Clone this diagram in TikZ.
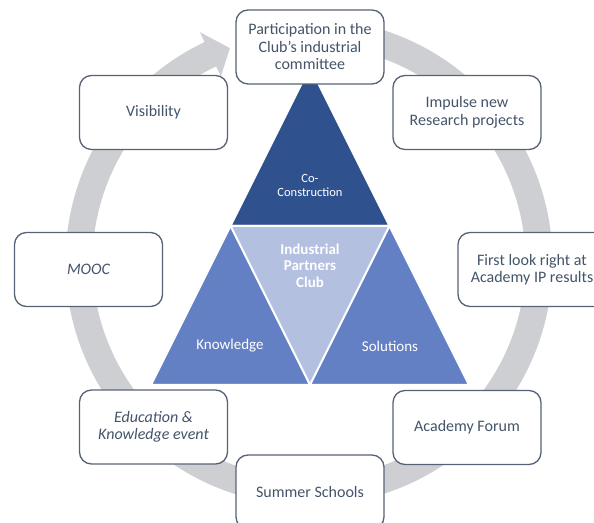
\documentclass[tikz,border=0pt]{standalone}
\usepackage{fontspec}
\setmainfont{Carlito}
\definecolor{ringgray}{RGB}{206,207,211}
\definecolor{boxline}{RGB}{88,98,118}
\definecolor{boxtext}{RGB}{68,84,106}
\definecolor{darkblue}{RGB}{47,82,143}
\definecolor{midblue}{RGB}{100,128,196}
\definecolor{lightblue}{RGB}{180,192,224}
\begin{document}
\begin{tikzpicture}[x=1pt,y=1pt,
box/.style={draw=boxline,line width=1.3pt,rounded corners=12pt,fill=white,
	minimum width=148pt,minimum height=74pt,align=center,text=boxtext,
	font=\fontsize{16}{17.5}\selectfont},
piece/.style={draw=white,line width=2pt,line join=round},
inner/.style={text=white,align=center}]
\useasboundingbox (0,0) rectangle (594,522);
% ring arrow behind everything
\begin{scope}[shift={(309,260)}]
\fill[ringgray] (90:243.5) arc[start angle=90,end angle=-244.6,radius=243.5]
	-- (115.4:254.5) -- (110.3:228) -- (115.4:205.5) -- (115.4:216.5)
	arc[start angle=-244.6,end angle=90,radius=216.5] -- cycle;
\end{scope}
% triangle
\coordinate (apex) at (310,455);
\coordinate (ml) at (230.5,296);
\coordinate (mr) at (389.5,296);
\coordinate (bl) at (151,137);
\coordinate (bm) at (310,137);
\coordinate (br) at (469,137);
\filldraw[piece,fill=darkblue] (apex) -- (mr) -- (ml) -- cycle;
\filldraw[piece,fill=lightblue] (ml) -- (mr) -- (bm) -- cycle;
\filldraw[piece,fill=midblue] (ml) -- (bm) -- (bl) -- cycle;
\filldraw[piece,fill=midblue] (mr) -- (br) -- (bm) -- cycle;
\node[inner,font=\fontsize{12.5}{14.5}\selectfont] (cocon) at (310,336.5) {Co-\\Construction};
\node[inner,font=\bfseries\fontsize{15}{16.5}\selectfont] (ipc) at (310,256.5) {Industrial\\Partners\\Club};
\node[inner,font=\fontsize{15}{17}\selectfont] (know) at (230,176) {Knowledge};
\node[inner,font=\fontsize{15}{17}\selectfont] (sol) at (390,176) {Solutions};
% boxes round the ring
\node[box] (part) at (310,475) {Participation in the\\Club's industrial\\committee};
\node[box] (vis) at (153.5,409.5) {Visibility};
\node[box] (impulse) at (467,409.5) {Impulse new\\Research projects};
\node[box] (mooc) at (88.5,252.5) {\itshape MOOC};
\node[box] (first) at (532,252.5) {First look right at\\Academy IP results};
\node[box] (edu) at (153.5,95) {\itshape Education \&\\\itshape Knowledge event};
\node[box] (forum) at (467,94.5) {Academy Forum};
\node[box] (summer) at (310,30) {Summer Schools};
\end{tikzpicture}
\end{document}
